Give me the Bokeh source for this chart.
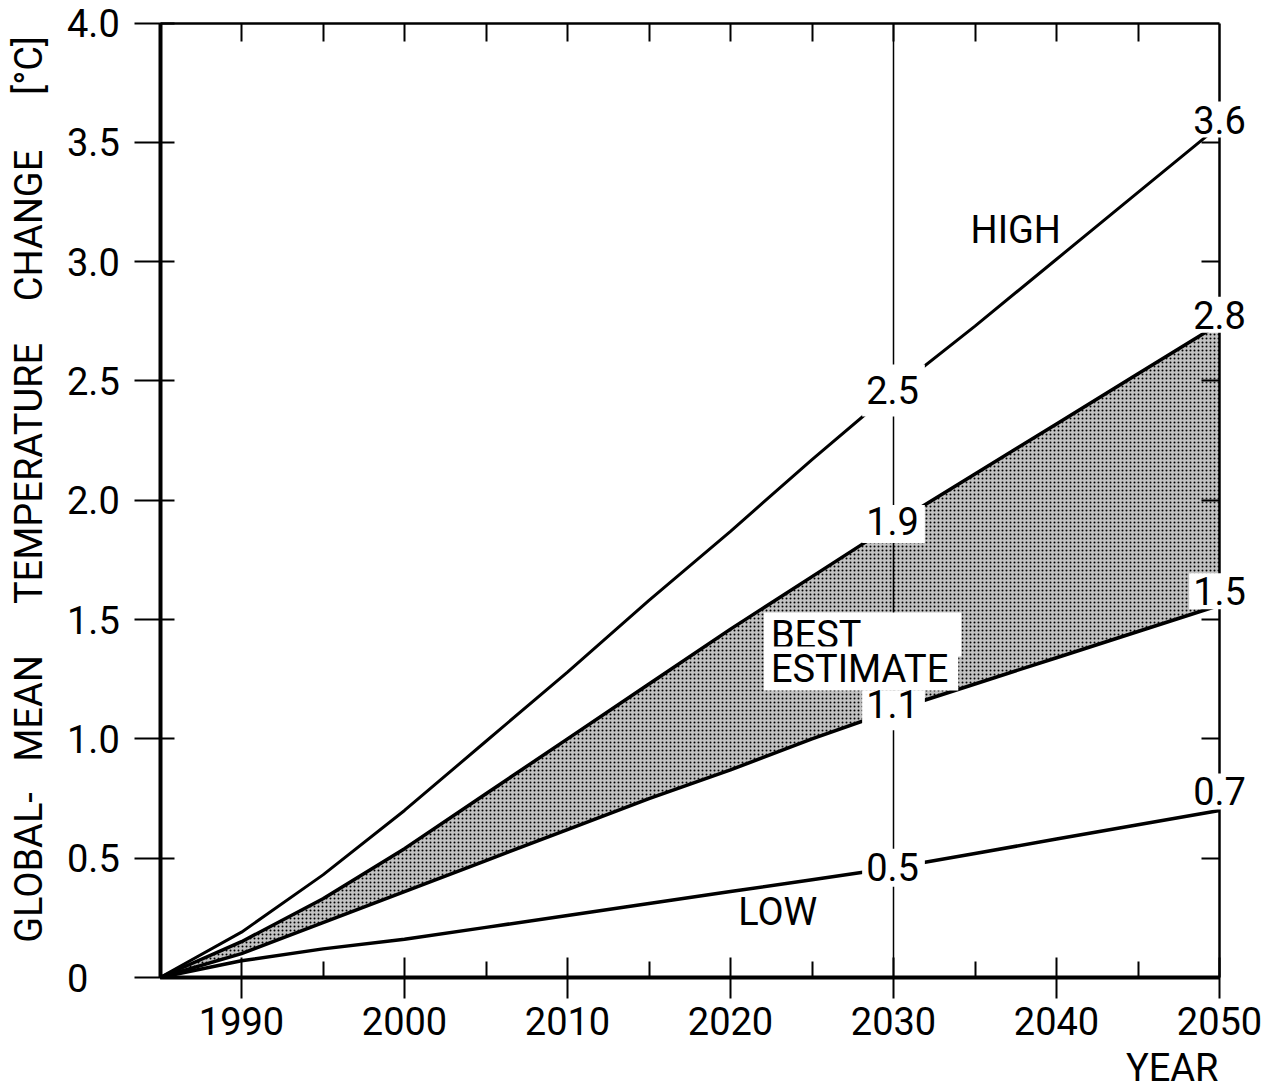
from math import pi
from bokeh.plotting import figure
from bokeh.models import Range1d, LinearAxis, FixedTicker, Label, ColumnDataSource
from bokeh.embed import file_html
from bokeh.resources import INLINE

# ---------------- data ----------------
years = [1985, 1990, 1995, 2000, 2005, 2010, 2015, 2020, 2025, 2030, 2035, 2040, 2045, 2050]
high = [0.0, 0.19, 0.43, 0.70, 0.99, 1.28, 1.58, 1.87, 2.17, 2.46, 2.73, 3.01, 3.29, 3.57]
best_upper = [0.0, 0.15, 0.33, 0.54, 0.77, 1.00, 1.23, 1.46, 1.68, 1.90, 2.11, 2.32, 2.53, 2.74]
best_lower = [0.0, 0.10, 0.23, 0.36, 0.49, 0.62, 0.75, 0.87, 1.00, 1.12, 1.23, 1.34, 1.45, 1.56]
low = [0.0, 0.07, 0.12, 0.16, 0.21, 0.26, 0.31, 0.36, 0.41, 0.46, 0.52, 0.58, 0.64, 0.70]

x_major = [1990, 2000, 2010, 2020, 2030, 2040, 2050]
x_minor = [1995, 2005, 2015, 2025, 2035, 2045]
x_top = [1990, 1995, 2000, 2005, 2010, 2015, 2020, 2025, 2030, 2035, 2040, 2045]
y_ticks = [0, 0.5, 1.0, 1.5, 2.0, 2.5, 3.0, 3.5, 4.0]
y_tick_labels = ["0", "0.5", "1.0", "1.5", "2.0", "2.5", "3.0", "3.5", "4.0"]
y_right_ticks = [0.5, 1.0, 1.5, 2.0, 2.5, 3.0, 3.5]

labels_2030 = ["2.5", "1.9", "1.1", "0.5"]
labels_2050 = ["3.6", "2.8", "1.5", "0.7"]
series_names = ["HIGH", "BEST", "ESTIMATE", "LOW"]
y_title_words = ["GLOBAL-", "MEAN", "TEMPERATURE", "CHANGE", "[°C]"]
x_title = "YEAR"

X0, X1 = 1985, 2050
Y0, Y1 = 0.0, 4.0

# ---------------- layout (pixels) ----------------
W, H = 1272, 1089
PX_X0, PX_X1 = 159.5, 1219.0   # canvas x of X0 / X1
PX_Y0, PX_Y1 = 977.0, 22.5     # canvas y of Y0 / Y1
sx = (PX_X1 - PX_X0) / (X1 - X0)
sy = (PX_Y0 - PX_Y1) / (Y1 - Y0)
x_range = Range1d(X0 - PX_X0 / sx, X1 + (W - PX_X1) / sx)
y_range = Range1d(Y0 - (H - PX_Y0) / sy, Y1 + PX_Y1 / sy)


def vy(px):
    """canvas pixel row -> data value (for placing text)"""
    return Y0 + (PX_Y0 - px) / sy


FONT = "Roboto"
FS = "38px"

src = ColumnDataSource(dict(year=years, high=high, upper=best_upper, lower=best_lower, low=low))

p = figure(width=W, height=H, x_range=x_range, y_range=y_range,
           x_axis_location=None, y_axis_location=None,
           output_backend="svg", toolbar_location=None,
           min_border=0, min_border_left=0, min_border_right=0,
           min_border_top=0, min_border_bottom=0)
p.xgrid.visible = False
p.ygrid.visible = False
p.outline_line_color = None
p.background_fill_color = "white"
p.border_fill_color = "white"

common = dict(axis_line_color="black", major_tick_line_color="black",
              minor_tick_line_color="black")

# bottom axis
bx = LinearAxis(fixed_location=Y0, bounds=(X0, X1),
                ticker=FixedTicker(ticks=x_major, minor_ticks=x_minor),
                axis_line_width=4, major_tick_line_width=2, major_tick_in=20, major_tick_out=21,
                minor_tick_line_width=2, minor_tick_in=16, minor_tick_out=0,
                major_label_text_font=FONT, major_label_text_font_size=FS,
                major_label_text_color="black", major_label_standoff=8, **common)
p.add_layout(bx, "below")

# left axis (labels drawn separately, left-aligned like the original)
ly = LinearAxis(fixed_location=X0, bounds=(Y0, Y1),
                ticker=FixedTicker(ticks=y_ticks, minor_ticks=[]),
                axis_line_width=4, major_tick_line_width=2, major_tick_in=14, major_tick_out=26,
                minor_tick_out=0, minor_tick_in=0,
                major_label_text_color=None, major_label_text_font_size="1px", **common)
p.add_layout(ly, "left")

# top axis
tx = LinearAxis(fixed_location=Y1, bounds=(X0, X1),
                ticker=FixedTicker(ticks=x_top, minor_ticks=[]),
                axis_line_width=2.5, major_tick_line_width=2, major_tick_in=18, major_tick_out=0,
                minor_tick_out=0, minor_tick_in=0,
                major_label_text_color=None, major_label_text_font_size="1px", **common)
p.add_layout(tx, "above")

# right axis
ry = LinearAxis(fixed_location=X1, bounds=(Y0, Y1),
                ticker=FixedTicker(ticks=y_right_ticks, minor_ticks=[]),
                axis_line_width=2.5, major_tick_line_width=2, major_tick_in=18, major_tick_out=0,
                minor_tick_out=0, minor_tick_in=0,
                major_label_text_color=None, major_label_text_font_size="1px", **common)
p.add_layout(ry, "right")

# shaded best-estimate band (dot screen)
p.varea(x="year", y1="lower", y2="upper", source=src,
        fill_color="#c2c2c2", fill_alpha=1.0,
        hatch_pattern="dot", hatch_color="black", hatch_scale=4, hatch_weight=3, hatch_alpha=1.0)

# 2030 reference line
p.segment(x0=[2030], y0=[Y0], x1=[2030], y1=[Y1], line_color="black", line_width=1.5)

# curves
p.line("year", "high", source=src, line_color="black", line_width=3)
p.line("year", "upper", source=src, line_color="black", line_width=3.5)
p.line("year", "lower", source=src, line_color="black", line_width=3.5)
p.line("year", "low", source=src, line_color="black", line_width=3.5)


def lab(**kw):
    base = dict(text_font=FONT, text_font_size=FS, text_color="black",
                text_align="center", text_baseline="middle")
    base.update(kw)
    return Label(**base)


# series names
p.add_layout(lab(x=2037.5, y=vy(229), text=series_names[0]))
p.add_layout(lab(x=2022.05, y=vy(634), text=series_names[1], text_align="left",
                 background_fill_color="white", padding=dict(left=7, right=100, top=0, bottom=0)))
p.add_layout(lab(x=2022.05, y=vy(668), text=series_names[2], text_align="left",
                 background_fill_color="white", padding=dict(left=7, right=10, top=0, bottom=0)))
p.add_layout(lab(x=2022.9, y=vy(911), text=series_names[3]))

# value labels at 2030 and 2050
i30 = years.index(2030)
i50 = years.index(2050)
series = [high, best_upper, best_lower, low]
pads_2030 = [dict(left=4, right=6, top=12, bottom=12),
             dict(left=4, right=6, top=2, bottom=8),
             dict(left=4, right=6, top=0, bottom=12),
             dict(left=4, right=6, top=4, bottom=6)]
for s, t, pad in zip(series, labels_2030, pads_2030):
    p.add_layout(lab(x=2030, y=s[i30], text=t, background_fill_color="white", padding=pad))
end_offsets = [6, 9, 14, 19]
for s, t, off in zip(series, labels_2050, end_offsets):
    p.add_layout(lab(x=2050, y=s[i50], y_offset=off, text=t, background_fill_color="white",
                     padding=dict(left=4, right=4, top=4, bottom=4)))

# y tick labels
for v, t in zip(y_ticks, y_tick_labels):
    p.add_layout(lab(x=X0, y=v, x_offset=-93, text=t, text_align="left"))

# y title, word by word (wide word spacing in original)
title_centers_px = [867, 708, 473, 225, 65]
for w, c in zip(y_title_words, title_centers_px):
    p.add_layout(lab(x=X0, y=vy(c), x_offset=-131, text=w, angle=pi / 2))

# x title
p.add_layout(lab(x=X1, y=Y0, x_offset=-1, y_offset=-90, text=x_title, text_align="right"))

open("out.html", "w").write(file_html(p, INLINE))
